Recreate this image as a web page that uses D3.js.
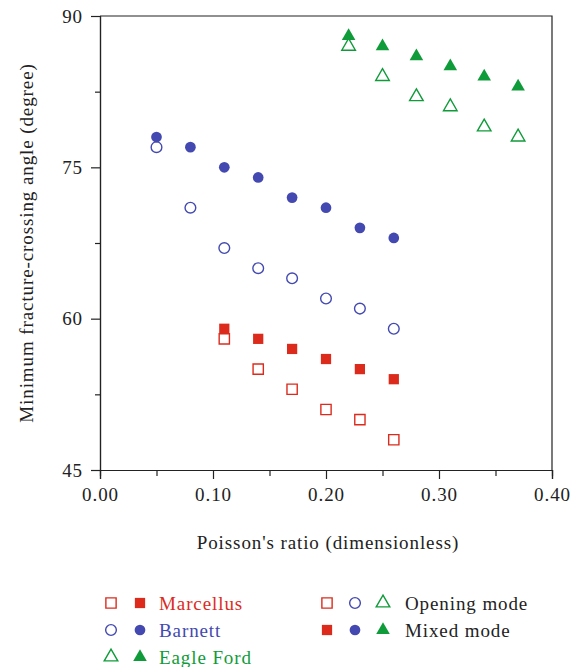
<!DOCTYPE html>
<html>
<head>
<meta charset="utf-8">
<script src="https://cdn.jsdelivr.net/npm/d3@7"></script>
<style>
  body { margin: 0; background: #fff; }
  text { font-family: "Liberation Serif", "DejaVu Serif", serif; letter-spacing: 0.9px; }
</style>
</head>
<body>
<div id="chart"></div>
<script>
// data
var marcellusX = [0.11, 0.14, 0.17, 0.20, 0.23, 0.26];
var marcellusOpening = [58, 55, 53, 51, 50, 48];
var marcellusMixed = [59, 58, 57, 56, 55, 54];

var barnettX = [0.05, 0.08, 0.11, 0.14, 0.17, 0.20, 0.23, 0.26];
var barnettOpening = [77, 71, 67, 65, 64, 62, 61, 59];
var barnettMixed = [78, 77, 75, 74, 72, 71, 69, 68];

var eagleX = [0.22, 0.25, 0.28, 0.31, 0.34, 0.37];
var eagleOpening = [87, 84, 82, 81, 79, 78];
var eagleMixed = [88, 87, 86, 85, 84, 83];

var xTicks = [0, 0.1, 0.2, 0.3, 0.4];
var yTicks = [45, 60, 75, 90];

var red = "#dc2b1c", blue = "#4349b0", green = "#109b3a";

var W = 579, H = 667;
var margin = { top: 16, right: 27, bottom: 197, left: 100 },
  width = W - margin.left - margin.right,
  height = H - margin.top - margin.bottom;

var svgRoot = d3.select("#chart").append("svg").attr("width", W).attr("height", H);
var svg = svgRoot.append("g")
  .attr("transform", "translate(" + margin.left + "," + margin.top + ")");

var x = d3.scaleLinear().domain([0, 0.4]).range([0, width]);
var y = d3.scaleLinear().domain([45, 90]).range([height, 0]);

// frame (top and right)
svg.append("path")
  .attr("d", "M0,0H" + width + "V" + height)
  .attr("fill", "none").attr("stroke", "#222").attr("stroke-width", 1.2);

// minor ticks
var gx = svg.append("g").attr("transform", "translate(0," + height + ")");
gx.call(d3.axisBottom(x).tickValues(d3.range(0.05, 0.4, 0.1)).tickSize(6).tickFormat(""));
var gx2 = svg.append("g").attr("transform", "translate(0," + height + ")");
gx2.call(d3.axisBottom(x).tickValues(xTicks).tickSize(9).tickPadding(9).tickFormat(d3.format(".2f")));

var gy = svg.append("g");
gy.call(d3.axisLeft(y).tickValues([52.5, 67.5, 82.5]).tickSize(5).tickFormat(""));
var gy2 = svg.append("g");
gy2.call(d3.axisLeft(y).tickValues(yTicks).tickSize(9).tickPadding(8));

svg.selectAll(".domain").attr("stroke", "#222").attr("stroke-width", 1.2);
svg.selectAll(".tick line").attr("stroke", "#222").attr("stroke-width", 1.2);
svg.selectAll(".tick text").attr("font-size", 19).attr("fill", "#222")
  .attr("font-family", "Liberation Serif, serif");

// axis titles
svgRoot.append("text")
  .attr("x", 328).attr("y", 549)
  .attr("text-anchor", "middle").attr("font-size", 19).attr("fill", "#222")
  .text("Poisson's ratio (dimensionless)");
svgRoot.append("text")
  .attr("transform", "translate(33,243) rotate(-90)")
  .attr("text-anchor", "middle").attr("font-size", 19).attr("fill", "#222")
  .text("Minimum fracture-crossing angle (degree)");

// marker drawing
var sym = {
  square: d3.symbol().type(d3.symbolSquare).size(105),
  circle: d3.symbol().type(d3.symbolCircle).size(90),
  triangle: d3.symbol().type(d3.symbolTriangle).size(80)
};

function drawMarker(g, shape, color, filled, px, py) {
  g.append("path")
    .attr("d", sym[shape]())
    .attr("transform", "translate(" + px + "," + py + ")")
    .attr("fill", filled ? color : "#fff")
    .attr("stroke", color)
    .attr("stroke-width", filled ? 0 : 1.4);
}

function drawSeries(xs, ys, shape, color, filled) {
  var g = svg.append("g");
  xs.forEach(function (d, i) {
    drawMarker(g, shape, color, filled, x(d), y(ys[i]));
  });
}

drawSeries(barnettX, barnettOpening, "circle", blue, false);
drawSeries(barnettX, barnettMixed, "circle", blue, true);
drawSeries(marcellusX, marcellusOpening, "square", red, false);
drawSeries(marcellusX, marcellusMixed, "square", red, true);
drawSeries(eagleX, eagleOpening, "triangle", green, false);
drawSeries(eagleX, eagleMixed, "triangle", green, true);

// legend
var leg = svgRoot.append("g");
var rows = [
  { name: "Marcellus", shape: "square", color: red },
  { name: "Barnett", shape: "circle", color: blue },
  { name: "Eagle Ford", shape: "triangle", color: green }
];
rows.forEach(function (r, i) {
  var ly = 603 + i * 27;
  drawMarker(leg, r.shape, r.color, false, 111, ly);
  drawMarker(leg, r.shape, r.color, true, 140, ly);
  leg.append("text").attr("x", 159).attr("y", ly + 7)
    .attr("font-size", 19).attr("fill", r.color).text(r.name);
});
var modes = [{ name: "Opening mode", filled: false }, { name: "Mixed mode", filled: true }];
modes.forEach(function (m, i) {
  var ly = 603 + i * 27;
  rows.forEach(function (r, j) {
    drawMarker(leg, r.shape, r.color, m.filled, 327 + j * 28, ly);
  });
  leg.append("text").attr("x", 405).attr("y", ly + 7)
    .attr("font-size", 19).attr("fill", "#222").text(m.name);
});
</script>
</body>
</html>
